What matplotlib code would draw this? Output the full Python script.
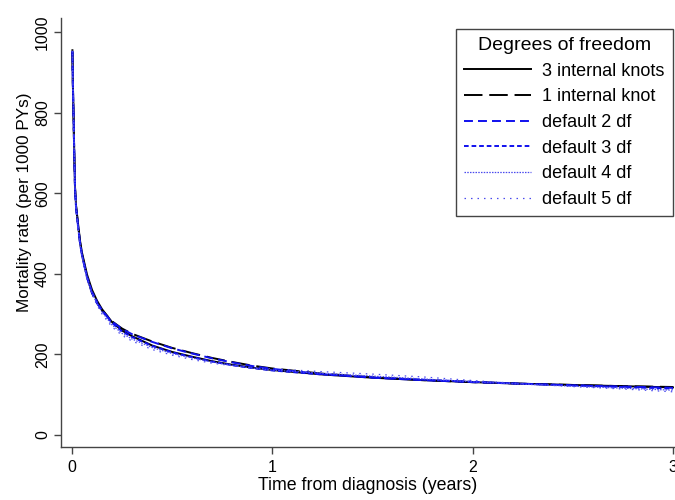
import matplotlib
matplotlib.use("Agg")
import matplotlib.pyplot as plt

plt.rcParams['font.family'] = ['Liberation Sans', 'DejaVu Sans']

# Predicted mortality rates (per 1000 person-years) by time since diagnosis
years = [0.002, 0.004, 0.007, 0.01, 0.015, 0.02, 0.03, 0.04, 0.05, 0.075,
         0.1, 0.125, 0.15, 0.2, 0.25, 0.3, 0.4, 0.5, 0.6, 0.7, 0.8, 0.9,
         1.0, 1.25, 1.5, 1.75, 2.0, 2.25, 2.5, 2.75, 3.0]

knots3 = [955, 880, 810, 730, 615, 570, 525, 482, 452, 398,
          360, 333, 312, 280, 259, 245, 222, 206, 194, 183, 174, 167,
          161, 150, 142, 136, 131, 127, 124, 121, 118]
knots1 = [950, 875, 805, 725, 612, 568, 522, 478, 448, 392,
          352, 328, 309, 282, 264, 251, 232, 216, 203, 191, 181, 172,
          165, 152, 143, 136, 131, 127, 124, 121, 119]
df2 = [952, 878, 808, 728, 612, 565, 518, 475, 445, 390,
       352, 327, 308, 281, 263, 250, 231, 215, 202, 190, 180, 171,
       164, 151, 142, 136, 131, 127, 123, 120, 117]
df3 = [953, 879, 808, 728, 613, 566, 520, 477, 447, 393,
       355, 330, 309, 278, 257, 243, 221, 205, 193, 182, 173, 166,
       160, 150, 143, 137, 132, 127, 123, 119, 115]
df4 = [953, 878, 806, 726, 610, 563, 517, 474, 444, 390,
       352, 326, 305, 273, 252, 238, 217, 202, 191, 181, 173, 166,
       161, 153, 146, 139, 132, 126, 121, 116, 111]
df5 = [954, 879, 806, 725, 609, 561, 515, 472, 441, 386,
       348, 322, 300, 268, 247, 233, 212, 198, 187, 178, 172, 167,
       164, 157, 151, 144, 135, 127, 120, 114, 107]

labels = ['3 internal knots', '1 internal knot', 'default 2 df',
          'default 3 df', 'default 4 df', 'default 5 df']

fig = plt.figure(figsize=(6.75, 5.0), dpi=100)
ax = fig.add_axes([61 / 675, 53 / 500, 1 - 61 / 675, (447 - 18) / 500])

blue = '#1010ee'
ax.plot(years, knots3, color='black', lw=1.4, label=labels[0])
ax.plot(years, knots1, color='black', lw=1.4, dashes=(9.5, 3.5), label=labels[1])
ax.plot(years, df2, color=blue, lw=1.4, dashes=(4.6, 2.6), label=labels[2])
ax.plot(years, df3, color=blue, lw=1.4, dashes=(2.4, 1.5), label=labels[3])
ax.plot(years, df4, color='#4a4aee', lw=0.9, dashes=(1.2, 1.0), label=labels[4])
ax.plot(years, df5, color='#4a4aee', lw=0.9, dashes=(1.2, 4.0), label=labels[5])

ax.set_xlim(-0.055, 3.01)
ax.set_ylim(-30, 1035)
ax.set_xticks([0, 1, 2, 3])
ax.set_yticks([0, 200, 400, 600, 800, 1000])

for side in ['top', 'right']:
    ax.spines[side].set_visible(False)
for side in ['left', 'bottom']:
    ax.spines[side].set_color('#444444')
    ax.spines[side].set_linewidth(1.0)

ax.tick_params(axis='both', direction='out', length=5, width=1.0,
               color='#444444', labelsize=11.5)
ax.tick_params(axis='x', pad=4)
ax.tick_params(axis='y', pad=3)
plt.setp(ax.get_yticklabels(), rotation=90, va='center')

ax.set_xlabel('Time from diagnosis (years)', fontsize=12.8, labelpad=2)
ax.set_ylabel('Mortality rate (per 1000 PYs)', fontsize=12.3, labelpad=2)
ax.yaxis.label.set_y(0.57)

leg = ax.legend(loc='upper right', bbox_to_anchor=(673 / 675, 1 - 29 / 500),
                bbox_transform=fig.transFigure, borderaxespad=0,
                title='Degrees of freedom', title_fontsize=14, fontsize=13,
                handlelength=3.7, handletextpad=0.65, labelspacing=0.48,
                fancybox=False, framealpha=1, edgecolor='#444444',
                borderpad=0.45)
leg.get_frame().set_linewidth(1.0)

fig.savefig('out.png', dpi=100)
